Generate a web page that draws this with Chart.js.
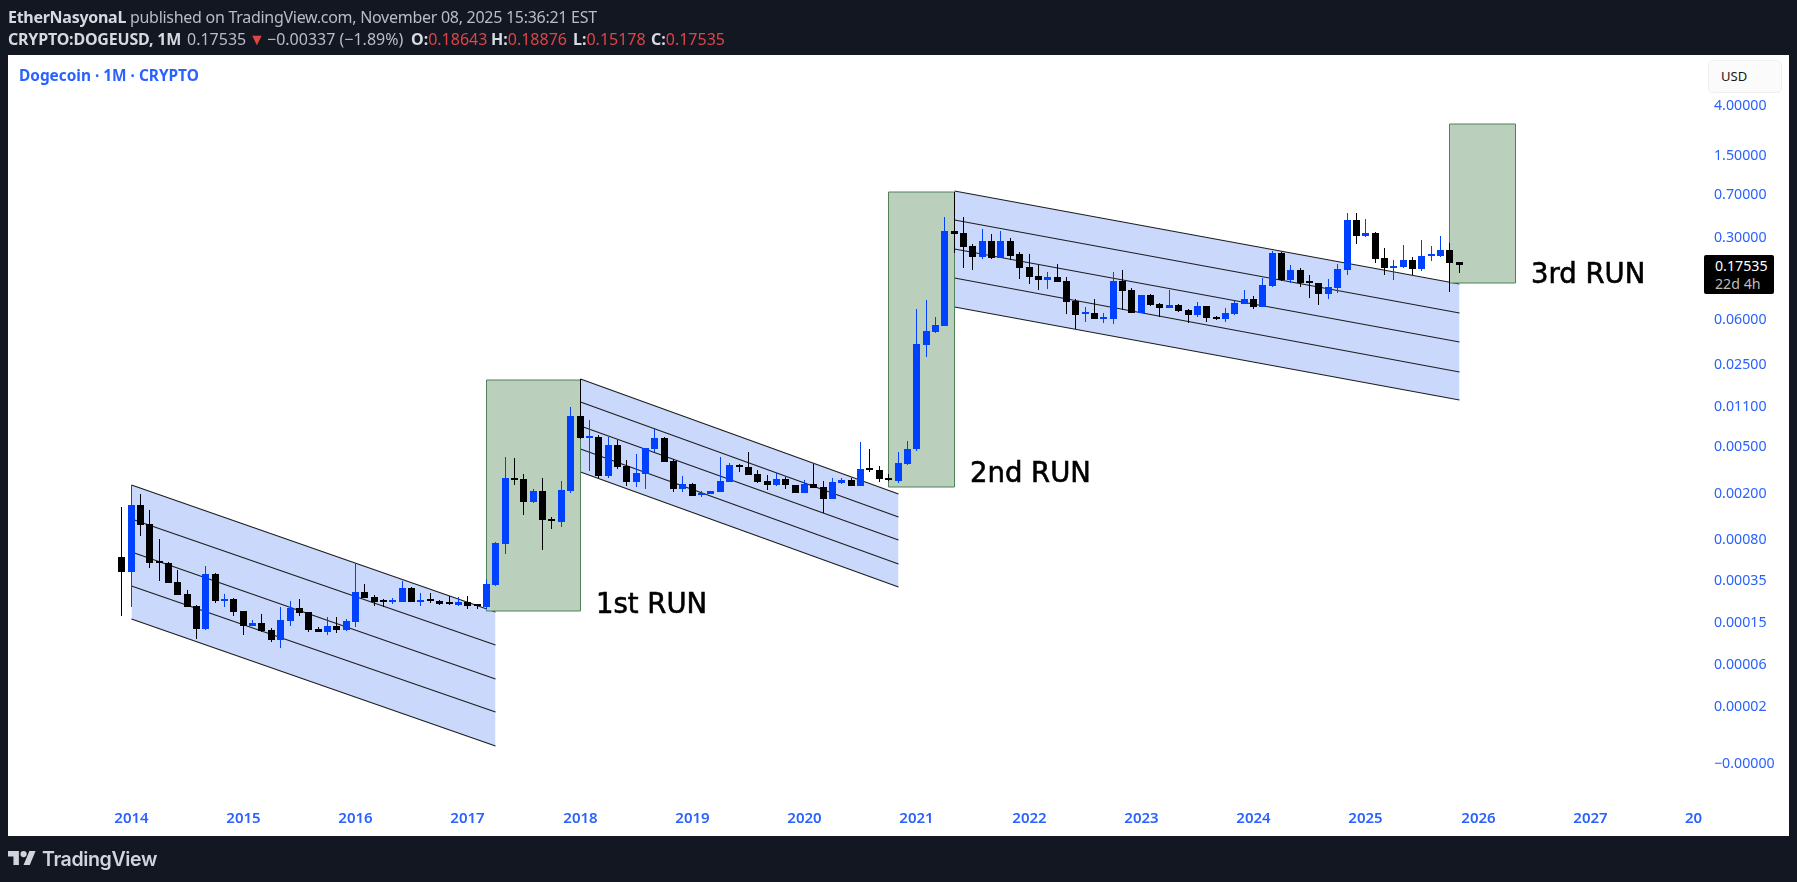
<!DOCTYPE html>
<html>
<head>
<meta charset="utf-8">
<title>DOGEUSD</title>
<script src="https://cdn.jsdelivr.net/npm/chart.js@4"></script>
<style>
  html, body { margin: 0; padding: 0; width: 1797px; height: 882px; background: #131722; overflow: hidden; }
  body { position: relative; font-family: "Noto Sans", sans-serif; }
  #panel { position: absolute; left: 8px; top: 55px; width: 1781px; height: 781px; background: #fff; }
  #myChart { position: absolute; left: 0; top: 0; }
  .abs { position: absolute; white-space: nowrap; }
  .line { font-size: 16px; line-height: 20px; color: #b8bcc6; }
  .line b { color: #d6d9e0; font-weight: 700; }
  .red { color: #e04444; }
  .run { font-family: "DejaVu Sans", sans-serif; font-size: 27.5px; line-height: 30px; color: #000; -webkit-text-stroke: 0.6px #000; }
</style>
</head>
<body>
<div id="panel"></div>
<canvas id="myChart" width="1797" height="882"></canvas>

<div class="abs line" style="left:8px;top:7px;letter-spacing:-0.28px"><b>EtherNasyonaL</b> published on TradingView.com, November 08, 2025 15:36:21 EST</div>
<div class="abs line" style="left:8px;top:29px;letter-spacing:-0.2px"><b>CRYPTO:DOGEUSD, 1M</b></div>
<div class="abs line" style="left:187px;top:29px">0.17535</div>
<div class="abs line red" style="left:249px;top:29px">▼</div>
<div class="abs line" style="left:267px;top:29px">−0.00337 (−1.89%)</div>
<div class="abs line" style="left:411px;top:29px"><b>O:</b><span class="red">0.18643</span></div>
<div class="abs line" style="left:491px;top:29px"><b>H:</b><span class="red">0.18876</span></div>
<div class="abs line" style="left:573px;top:29px"><b>L:</b><span class="red">0.15178</span></div>
<div class="abs line" style="left:651px;top:29px"><b>C:</b><span class="red">0.17535</span></div>
<div class="abs" style="left:19px;top:66px;font-size:15.4px;line-height:20px;font-weight:700;color:#2962ff">Dogecoin · 1M · CRYPTO</div>
<div class="abs" style="left:1708px;top:60px;width:74px;height:33px;box-sizing:border-box;padding-left:12px;background:#fbfbfb;border:1px solid #f0f0f0;border-radius:5px;font-size:13px;line-height:31px;color:#131722">USD</div>

<div class="abs run" style="left:596px;top:588px">1st RUN</div>
<div class="abs run" style="left:970px;top:457px">2nd RUN</div>
<div class="abs run" style="left:1531px;top:258px">3rd RUN</div>

<div class="abs" style="left:1704px;top:255px;width:70px;height:39px;background:#000;border-radius:2px"></div>
<div class="abs" style="left:1715px;top:256px;font-size:14.2px;line-height:20px;color:#fff">0.17535</div>
<div class="abs" style="left:1715px;top:274px;font-size:14.2px;line-height:20px;color:#bdbdbd">22d 4h</div>

<svg class="abs" style="left:8px;top:851px" width="28" height="14" viewBox="0 4 36 18"><path fill="#d1d4dc" d="M14 22H7V11H0V4h14v18zM28 22h-8l7.5-18h8L28 22z"/><circle fill="#d1d4dc" cx="20" cy="8" r="4"/></svg>
<div class="abs" style="left:42px;top:844px;font-family:Inter,sans-serif;font-size:19.6px;line-height:30px;font-weight:600;color:#d1d4dc;letter-spacing:-0.4px">TradingView</div>

<script>
// months shown on the time axis, Dec 2012 to Jan 2028
var months = [];
for (var yr = 2012; yr <= 2028; yr++) {
    for (var mo = 1; mo <= 12; mo++) {
        var key = yr + '-' + (mo < 10 ? '0' : '') + mo;
        if (key >= '2012-12' && key <= '2028-01') months.push(key);
    }
}
var yearTicks = ['2014-01','2015-01','2016-01','2017-01','2018-01','2019-01','2020-01','2021-01','2022-01','2023-01','2024-01','2025-01','2026-01','2027-01'];
var cutTick = '2027-12';   // the 2028 label is cut to "20" by the price scale
// the last tick is a hair below zero, the chart prints it as −0.00000
var priceTicks = [4, 1.5, 0.7, 0.3, 0.06, 0.025, 0.011, 0.005, 0.002, 0.0008, 0.00035, 0.00015, 0.00006, 0.00002, -0.0000005];

var firstCandle = months.indexOf('2013-12');

// monthly candles, first one is Dec 2013
var opens = [
    .000568,
    .000427,.0016,.0011,.000517,.000507,.000347,.00027,.000213,.000132,.000407,.000234,.000243,
    .000192,.000141,.000148,.000128,.000103,.000155,.000203,.000187,.000131,.000124,.00014,.000129,
    .000152,.000283,.000255,.000235,.00023,.00023,.000306,.000232,.00024,.000235,.000224,.000219,
    .00023,.000217,.000206,.000325,.000746,.00273,.00267,.0017,.00211,.00119,.00114,.00212,
    .0092,.00597,.0061,.00283,.00521,.00345,.00254,.00297,.00481,.00597,.0038,.0022,
    .00242,.00194,.002,.00208,.00254,.00349,.00338,.00295,.00257,.00239,.00267,.00236,
    .00204,.00241,.00228,.00182,.00249,.00262,.00234,.00325,.00319,.00273,.00258,.0036,
    .00477,.0372,.0474,.054,.3445,.3285,.2565,.2084,.2832,.2044,.2832,.2196,
    .1691,.1419,.1329,.1391,.1286,.0881,.0674,.0687,.0619,.0619,.1294,.1085,
    .0696,.0977,.0825,.0763,.0809,.0733,.0665,.0793,.0639,.0619,.0683,.0831,
    .091,.0783,.1173,.2226,.1321,.1596,.127,.1238,.1004,.1129,.1606,.4275,
    .3125,.3315,.2018,.168,.1703,.194,.1639,.2126,.2126,.236,.18643
];
var highs = [
    .00155,
    .00237,.00199,.00145,.00082,.000517,.00044,.000294,.000217,.000477,.000413,.000271,.000248,
    .000192,.000159,.00018,.000133,.000209,.000235,.000245,.000189,.000136,.000168,.00017,.000162,
    .000503,.000333,.000264,.000243,.00025,.000356,.000313,.000275,.000275,.00024,.000262,.000253,
    .00026,.000223,.000365,.000776,.00409,.00403,.00295,.00218,.00273,.00127,.00257,.011,
    .0189,.0085,.0063,.0061,.00574,.00389,.00437,.00491,.00709,.00606,.00395,.00283,
    .00249,.00212,.00212,.00409,.00363,.00359,.00454,.0032,.00287,.003,.0028,.00239,
    .00262,.0036,.00257,.00273,.00274,.00271,.00552,.00481,.00343,.00297,.00454,.00563,
    .0748,.0892,.0639,.453,.744,.453,.2653,.356,.3249,.3445,.2986,.2284,
    .2181,.1772,.1534,.1793,.1391,.0904,.0778,.091,.0691,.1534,.1605,.1121,
    .0984,.0997,.0836,.1093,.0825,.0748,.0858,.0795,.0652,.0763,.0881,.1085,
    .0965,.1373,.2329,.227,.1771,.166,.1457,.1252,.1347,.1806,.487,.487,
    .436,.336,.2471,.1953,.262,.2072,.289,.257,.3125,.2745,.18876
];
var lows = [
    .000174,
    .00021,.00087,.00046,.000356,.000342,.000265,.000206,.000106,.000129,.000227,.00021,.000171,
    .000116,.00014,.000124,.0001,.000088,.000141,.000171,.000124,.000123,.000116,.000121,.000127,
    .000138,.000248,.000214,.000206,.000223,.00023,.00023,.000214,.000227,.000219,.000219,.000214,
    .000201,.000201,.0002,.00032,.000611,.00238,.00132,.00166,.000658,.001,.00104,.00204,
    .0059,.00313,.00271,.00274,.00325,.00234,.0023,.0022,.00451,.0037,.00208,.00208,
    .00193,.00189,.00198,.00207,.00252,.00309,.00287,.00245,.00215,.00234,.0022,.00204,
    .00203,.00224,.00136,.00181,.00242,.00233,.00232,.00309,.00254,.00257,.00247,.00352,
    .00465,.0294,.047,.0535,.2225,.168,.1605,.1978,.1978,.203,.1953,.1355,
    .1229,.1093,.1114,.1269,.0683,.0502,.0584,.0615,.0572,.0561,.0729,.0687,
    .069,.0799,.0644,.076,.071,.0572,.0644,.0584,.0607,.0584,.0669,.0825,
    .0753,.0778,.116,.1304,.1238,.1159,.0935,.0815,.0916,.1031,.1457,.2689,
    .3085,.1854,.1464,.1321,.1671,.1464,.1585,.1928,.2085,.1051,.15178
];
var closes = [
    .000427,
    .0016,.00108,.00051,.000507,.000342,.000268,.000209,.000132,.000407,.000237,.000243,.000189,
    .000141,.000149,.000126,.000103,.000158,.000204,.000185,.000129,.000124,.00014,.00013,.000155,
    .000283,.00025,.00023,.00023,.000237,.000306,.000232,.00024,.000235,.000223,.00022,.00023,
    .000214,.000214,.000332,.000756,.00273,.00264,.0017,.00211,.00118,.00117,.00215,.0092,
    .00597,.0061,.00283,.00521,.00338,.00254,.00301,.00491,.00597,.00375,.0022,.00242,
    .00193,.00203,.0021,.00257,.00352,.00336,.00291,.00254,.00239,.00267,.00236,.00204,
    .00242,.00225,.00182,.00252,.0026,.00234,.00325,.0032,.00269,.0026,.00366,.00481,
    .0377,.0486,.0547,.3445,.327,.2535,.2084,.2832,.2044,.2832,.2126,.168,
    .1409,.1329,.1391,.1278,.0863,.0669,.0691,.0619,.0635,.1294,.1071,.0696,
    .0984,.0809,.0763,.0809,.0724,.0669,.0793,.0631,.0619,.0691,.0841,.091,
    .0783,.1197,.2239,.1321,.1596,.1246,.1238,.1004,.1144,.1639,.4275,.3125,
    .3315,.1992,.1671,.1737,.194,.1639,.2113,.2168,.236,.1854,.17535
];

// falling channels, five parallel lines, value at the left and at the right end
var channelMonths = [['2014-01','2017-04'], ['2018-01','2020-11'], ['2021-05','2025-11']];
var channelLeft = [
    [.002374, .001223, .000627, .000321, .000162],
    [.01899, .01203, .00757, .00485, .00309],
    [.749, .4246, .2422, .1373, .0778]
];
var channelRight = [
    [.000189, .000094, .0000427, .0000171, .0000038],
    [.00199, .00126, .000797, .0005, .000315],
    [.1221, .0688, .039, .02197, .01255]
];

// green "run" boxes
var runMonths = [['2017-03','2018-01'], ['2020-10','2021-05'], ['2025-10','2026-05']];
var runTop = [.0186, .7345, 2.782];
var runBottom = [.000193, .0023, .1253];

var BLUE = '#0041ff';
var BLACK = '#000000';

// TradingView log scale: log10(price + small offset), so that 0 still has a place
var PRICE_OFFSET = 0.0000107;
class OffsetLogScale extends Chart.LinearScale {
    buildTicks() {
        return priceTicks.map(function (v) { return { value: v }; });
    }
    getPixelForValue(value) {
        var lo = Math.log10(this.min + PRICE_OFFSET);
        var hi = Math.log10(this.max + PRICE_OFFSET);
        // whole pixels, candle edges stay sharp
        return Math.round(this.getPixelForDecimal((Math.log10(value + PRICE_OFFSET) - lo) / (hi - lo)));
    }
}
OffsetLogScale.id = 'offsetLog';
OffsetLogScale.defaults = {};

// month axis snapped to pixel centres so 1px wicks are not blurred
class SnappedMonthScale extends Chart.CategoryScale {
    getPixelForValue(value) {
        return Math.round(super.getPixelForValue(value) - 0.5) + 0.5;
    }
}
SnappedMonthScale.id = 'snappedMonth';
SnappedMonthScale.defaults = {};
Chart.register(OffsetLogScale, SnappedMonthScale);

function candleColor(ctx) {
    return closes[ctx.dataIndex] >= opens[ctx.dataIndex] ? BLUE : BLACK;
}

var wickData = [], bodyData = [];
for (var i = 0; i < closes.length; i++) {
    wickData.push({ x: months[firstCandle + i], y: [lows[i], highs[i]] });
    bodyData.push({ x: months[firstCandle + i], y: [opens[i], closes[i]] });
}

var datasets = [
    { type: 'bar', data: bodyData, backgroundColor: candleColor, barThickness: 7, minBarLength: 2, grouped: false, inflateAmount: 0, order: 1 },
    { type: 'bar', data: wickData, backgroundColor: candleColor, barThickness: 1, grouped: false, inflateAmount: 0, order: 2 }
];

// boxes sit above the channels, candles above both
runMonths.forEach(function (m, r) {
    datasets.push({
        type: 'line',
        data: [
            { x: m[0], y: runTop[r] }, { x: m[1], y: runTop[r] },
            { x: m[1], y: runBottom[r] }, { x: m[0], y: runBottom[r] }, { x: m[0], y: runTop[r] }
        ],
        borderColor: '#50825a',
        borderWidth: 1,
        backgroundColor: '#bacfbc',
        fill: 'shape',
        pointRadius: 0,
        tension: 0,
        order: 3
    });
});
channelMonths.forEach(function (m, c) {
    channelLeft[c].forEach(function (leftVal, k) {
        datasets.push({
            type: 'line',
            data: [{ x: m[0], y: leftVal }, { x: m[1], y: channelRight[c][k] }],
            borderColor: '#1e1e1e',
            borderWidth: 1.2,
            backgroundColor: '#c9d8fb',
            fill: k === 0 ? '+4' : false,
            pointRadius: 0,
            tension: 0,
            // the filled line goes first or its fill hides the inner lines
            order: k === 0 ? 5 : 4
        });
    });
});

var options = {
    responsive: false,
    animation: false,
    layout: { padding: { left: 9.4, top: 55, right: 0, bottom: 0 } },
    plugins: { legend: { display: false }, tooltip: { enabled: false }, filler: { propagate: false } },
    scales: {
        x: {
            type: 'snappedMonth',
            labels: months,
            offset: false,
            grid: { display: false, drawTicks: false },
            border: { display: false },
            afterFit: function (s) { s.height = 82; },
            ticks: {
                autoSkip: false,
                maxRotation: 0,
                padding: 10,
                color: '#2962ff',
                font: { family: '"Noto Sans"', size: 15, weight: '600' },
                callback: function (v) {
                    var m = months[v];
                    if (m === cutTick) return '20';
                    return yearTicks.indexOf(m) >= 0 ? m.slice(0, 4) : null;
                }
            }
        },
        y: {
            type: 'offsetLog',
            position: 'right',
            min: -0.0000057,
            max: 10.81,
            grid: { display: false, drawTicks: false },
            border: { display: false },
            afterFit: function (s) { s.width = 94.5; },
            ticks: {
                padding: 11.5,
                color: '#2962ff',
                font: { family: '"Noto Sans"', size: 14.2 },
                callback: function (v) {
                    return v < 0 ? '−' + Math.abs(v).toFixed(5) : v.toFixed(5);
                }
            }
        }
    }
};

var ctx = document.getElementById('myChart').getContext('2d');
var myChart = new Chart(ctx, {
    type: 'bar',
    data: { labels: months, datasets: datasets },
    options: options
});
</script>
</body>
</html>
